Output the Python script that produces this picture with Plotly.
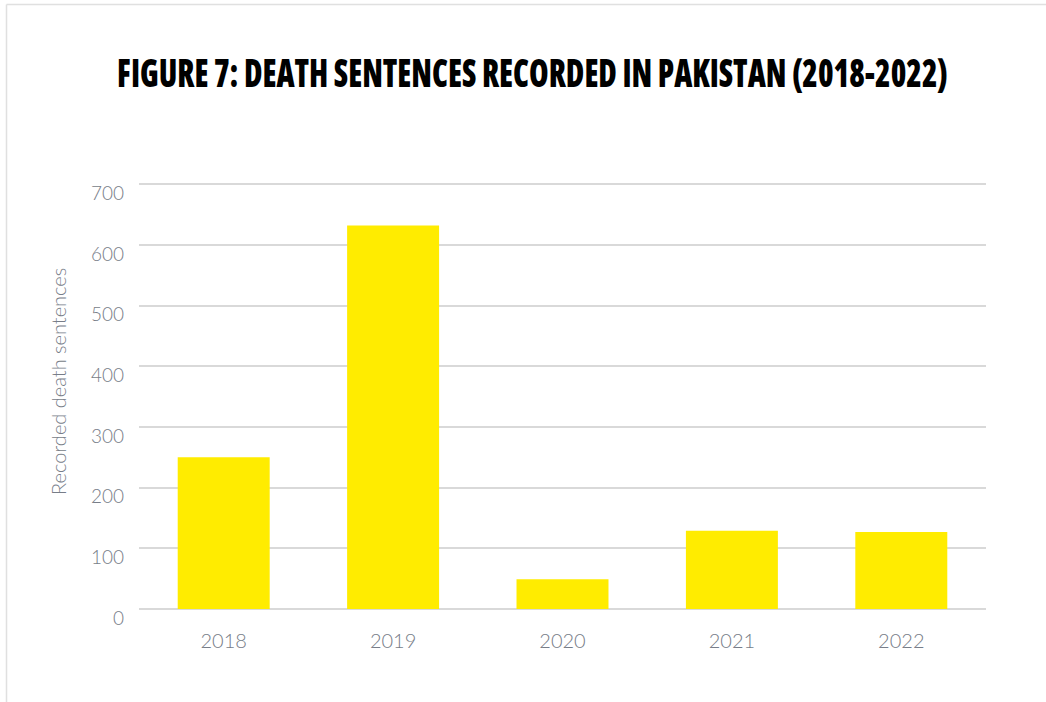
import plotly.graph_objects as go

years = ["2018", "2019", "2020", "2021", "2022"]
death_sentences = [250, 632, 49, 129, 127]
y_ticks = [0, 100, 200, 300, 400, 500, 600, 700]

title_text = "FIGURE 7: DEATH SENTENCES RECORDED IN PAKISTAN (2018-2022)"
y_title = "Recorded death sentences"

txt = "#777d88"
grid = "#d9d9d9"

fig = go.Figure(go.Bar(
    x=years, y=death_sentences,
    marker=dict(color="#ffec00", line=dict(width=0)),
    hoverinfo="x+y",
))

fig.update_layout(
    width=1046, height=702,
    margin=dict(l=139, r=60, t=183, b=93, autoexpand=False),
    paper_bgcolor="white", plot_bgcolor="white",
    bargap=0.457,
    showlegend=False,
    title=dict(
        text=title_text,
        x=0.509, xref="container", xanchor="center",
        y=1 - 74 / 702, yref="container", yanchor="middle",
        font=dict(family="Open Sans", size=38, color="#000000", weight=800),
    ),
    font=dict(family="Lato, Roboto, sans-serif", size=18, color=txt, weight=300),
    xaxis=dict(
        type="category", automargin=False,
        showgrid=False, showline=False, zeroline=False,
        ticks="", ticklabelstandoff=18,
        tickfont=dict(size=20, color=txt, weight=300),
    ),
    yaxis=dict(
        range=[0, 702], automargin=False,
        tickvals=y_ticks,
        showgrid=True, gridcolor=grid, gridwidth=1.5,
        zeroline=True, zerolinecolor=grid, zerolinewidth=1.5,
        showline=False, ticks="",
        ticklabelstandoff=14, ticklabelshift=9,
        tickfont=dict(size=19, color=txt, weight=300),
    ),
    annotations=[
        dict(text=y_title, textangle=-90, showarrow=False,
             xref="paper", yref="paper",
             x=(58 - 139) / 847, y=(609 - 382) / 426,
             xanchor="center", yanchor="middle",
             font=dict(size=20, color=txt, weight=300)),
    ],
    shapes=[
        dict(type="line", xref="paper", yref="paper",
             x0=(6.5 - 139) / 847, x1=(1046 - 139) / 847 + 0.01,
             y0=(609 - 4.5) / 426, y1=(609 - 4.5) / 426,
             line=dict(color="#e0e0e0", width=1.5), layer="below"),
        dict(type="line", xref="paper", yref="paper",
             x0=(6.5 - 139) / 847, x1=(6.5 - 139) / 847,
             y0=(609 - 4.5) / 426, y1=(609 - 710) / 426,
             line=dict(color="#e0e0e0", width=1.5), layer="below"),
    ],
)

post = """
document.body.style.margin='0';document.body.style.padding='0';
document.querySelectorAll('.gtitle').forEach(function(e){
  e.style.fontStretch='condensed';
  var b=e.getBBox();
  var cx=532.5;
  var s=831/b.width;
  e.setAttribute('transform','translate('+cx+',0) scale('+s+',1) translate('+(-(b.x+b.width/2))+',0)');
});
"""
fig.write_html("out.html", post_script=post, config={"displayModeBar": False})
